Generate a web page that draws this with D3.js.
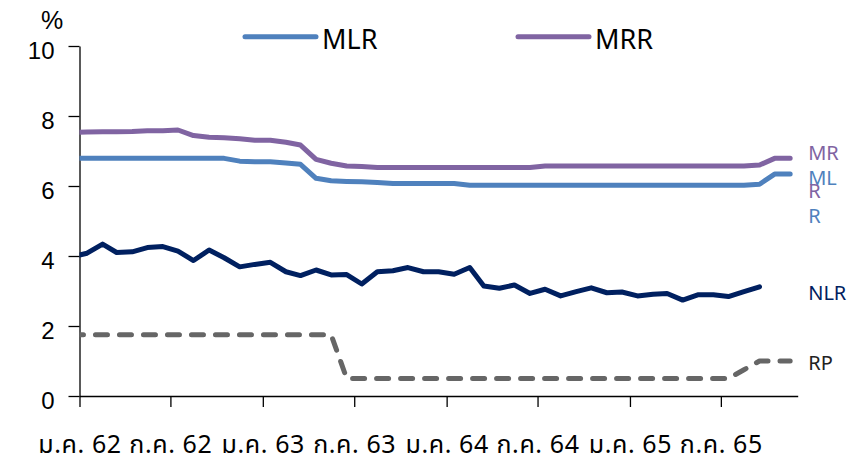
<!DOCTYPE html>
<html>
<head>
<meta charset="utf-8">
<script src="https://cdn.jsdelivr.net/npm/d3@7"></script>
<style>
  body { margin: 0; background: #fff; }
  svg { display: block; }
  .axis text { font-family: "Liberation Sans", Arial, sans-serif; fill: #000; }
  .x-axis text { font-family: "Noto Sans Thai", Tahoma, "Noto Sans", sans-serif; }
  .axis path, .axis line { stroke: #000; stroke-width: 1.3; }
</style>
</head>
<body>
<div id="container"></div>
<script>
/* CONSTANTS AND GLOBALS */
const width = 850,
  height = 459,
  margin = { top: 46, bottom: 63, left: 79.5, right: 52.3 };

/* DATA */
// monthly points, Dec 2018 .. Nov 2022 (plotted mid-month)
const months = d3.timeMonth.range(new Date(2018, 11, 1), new Date(2022, 11, 1))
  .map(d => new Date(d.getFullYear(), d.getMonth(), 16));

const mlr = [6.79,
  6.79, 6.79, 6.79, 6.79, 6.79, 6.79, 6.79, 6.79, 6.79, 6.79, 6.71, 6.69,
  6.69, 6.66, 6.62, 6.22, 6.15, 6.13, 6.12, 6.10, 6.07, 6.07, 6.07, 6.07,
  6.07, 6.02, 6.02, 6.02, 6.02, 6.02, 6.02, 6.02, 6.02, 6.02, 6.02, 6.02,
  6.02, 6.02, 6.02, 6.02, 6.02, 6.02, 6.02, 6.02, 6.05, 6.34, 6.34];

const mrr = [7.53,
  7.54, 7.55, 7.55, 7.56, 7.58, 7.58, 7.60, 7.44, 7.39, 7.38, 7.35, 7.31,
  7.31, 7.25, 7.17, 6.76, 6.65, 6.57, 6.56, 6.53, 6.53, 6.53, 6.53, 6.53,
  6.53, 6.53, 6.53, 6.53, 6.53, 6.53, 6.57, 6.57, 6.57, 6.57, 6.57, 6.57,
  6.57, 6.57, 6.57, 6.57, 6.57, 6.57, 6.57, 6.57, 6.60, 6.79, 6.79];

const nlr = [3.97,
  4.08, 4.34, 4.10, 4.12, 4.24, 4.27, 4.14, 3.87, 4.17, 3.95, 3.69, 3.76,
  3.82, 3.55, 3.44, 3.60, 3.46, 3.47, 3.20, 3.55, 3.58, 3.67, 3.55, 3.55,
  3.48, 3.67, 3.14, 3.08, 3.17, 2.93, 3.05, 2.86, 2.98, 3.09, 2.95, 2.97,
  2.86, 2.91, 2.93, 2.74, 2.89, 2.89, 2.84, 2.98, 3.12, null, null];

const rp = [1.75,
  1.75, 1.75, 1.75, 1.75, 1.75, 1.75, 1.75, 1.75, 1.75, 1.75, 1.75, 1.75,
  1.75, 1.75, 1.75, 1.75, 1.75, 0.50, 0.50, 0.50, 0.50, 0.50, 0.50, 0.50,
  0.50, 0.50, 0.50, 0.50, 0.50, 0.50, 0.50, 0.50, 0.50, 0.50, 0.50, 0.50,
  0.50, 0.50, 0.50, 0.50, 0.50, 0.50, 0.50, 0.75, 1.00, 1.00, 1.00];

const tickDates = [new Date(2019, 0, 1), new Date(2019, 6, 1), new Date(2020, 0, 1), new Date(2020, 6, 1),
  new Date(2021, 0, 1), new Date(2021, 6, 1), new Date(2022, 0, 1), new Date(2022, 6, 1)];
const tickLabels = ["ม.ค. 62", "ก.ค. 62", "ม.ค. 63", "ก.ค. 63", "ม.ค. 64", "ก.ค. 64", "ม.ค. 65", "ก.ค. 65"];
const yTicks = [0, 2, 4, 6, 8, 10];

const series = [
  { name: "MLR", values: mlr, color: "#4F81BD", dash: null, label: ["ML", "R"], dy: 11 },
  { name: "MRR", values: mrr, color: "#8064A2", dash: null, label: ["MR", "R"], dy: 2 },
  { name: "NLR", values: nlr, color: "#002060", dash: null, label: ["NLR"], dy: 13 },
  { name: "RP", values: rp, color: "#666666", dash: "12,12", label: ["RP"], dy: 9 }
];

/* SCALES */
const xScale = d3.scaleTime()
  .domain([new Date(2019, 0, 1), new Date(2022, 11, 1)])
  .range([margin.left, width - margin.right]);

const yScale = d3.scaleLinear()
  .domain([0, 10])
  .range([height - margin.bottom, margin.top]);

/* SVG */
const svg = d3.select("#container")
  .append("svg")
  .attr("width", width)
  .attr("height", height);

svg.append("defs").append("clipPath")
  .attr("id", "plot")
  .append("rect")
  .attr("x", margin.left)
  .attr("y", 0)
  .attr("width", width - margin.right - margin.left + 10)
  .attr("height", height - margin.bottom);

/* AXES */
svg.append("g")
  .attr("class", "axis y-axis")
  .attr("transform", `translate(${margin.left},0)`)
  .call(d3.axisLeft(yScale).tickValues(yTicks).tickSizeInner(11).tickSizeOuter(0).tickPadding(14))
  .call(g => g.selectAll("text").attr("font-size", 24).attr("dy", 12));

svg.append("g")
  .attr("class", "axis x-axis")
  .attr("transform", `translate(0,${height - margin.bottom})`)
  .call(d3.axisBottom(xScale).tickValues(tickDates).tickFormat((d, i) => tickLabels[i])
    .tickSizeInner(11).tickSizeOuter(0).tickPadding(0))
  .call(g => g.selectAll("text")
    .attr("font-size", 25)
    .attr("letter-spacing", 0.6)
    .attr("dy", null)
    .attr("y", 57));

svg.append("text")
  .attr("x", 41)
  .attr("y", 29)
  .attr("font-family", "Liberation Sans, Arial, sans-serif")
  .attr("font-size", 25)
  .text("%");

/* LINES */
const lineGenerator = d3.line()
  .defined(d => d.v !== null)
  .x(d => xScale(d.date))
  .y(d => yScale(d.v));

svg.append("g")
  .attr("clip-path", "url(#plot)")
  .selectAll(".line")
  .data(series)
  .join("path")
  .attr("class", "line")
  .attr("fill", "none")
  .attr("stroke", d => d.color)
  .attr("stroke-width", 5)
  .attr("stroke-linejoin", "round")
  .attr("stroke-linecap", "round")
  .attr("stroke-dasharray", d => d.dash)
  .attr("d", d => lineGenerator(d.values.map((v, i) => ({ date: months[i], v }))));

/* END LABELS */
const labelX = width - margin.right + 10.5;
svg.append("g")
  .selectAll("text")
  .data(series)
  .join("text")
  .attr("font-family", "Noto Sans, sans-serif")
  .attr("font-size", 20)
  .attr("fill", d => d.name === "RP" ? "#222" : d.color)
  .attr("y", d => {
    const last = d.values.filter(v => v !== null).pop();
    return yScale(last) + d.dy;
  })
  .each(function (d) {
    const t = d3.select(this);
    d.label.forEach((s, i) => {
      t.append("tspan").attr("x", labelX).attr("dy", i === 0 ? 0 : 38).text(s);
    });
  });

/* LEGEND */
const legend = [
  { name: "MLR", color: "#4F81BD", x: 245 },
  { name: "MRR", color: "#8064A2", x: 518 }
];
const lg = svg.append("g")
  .selectAll("g")
  .data(legend)
  .join("g")
  .attr("transform", d => `translate(${d.x},36.7)`);
lg.append("line")
  .attr("x1", 0).attr("x2", 71)
  .attr("stroke", d => d.color)
  .attr("stroke-width", 5)
  .attr("stroke-linecap", "round");
lg.append("text")
  .attr("x", 77)
  .attr("y", 12.5)
  .attr("font-family", "Noto Sans, sans-serif")
  .attr("font-size", 27)
  .text(d => d.name);
</script>
</body>
</html>
